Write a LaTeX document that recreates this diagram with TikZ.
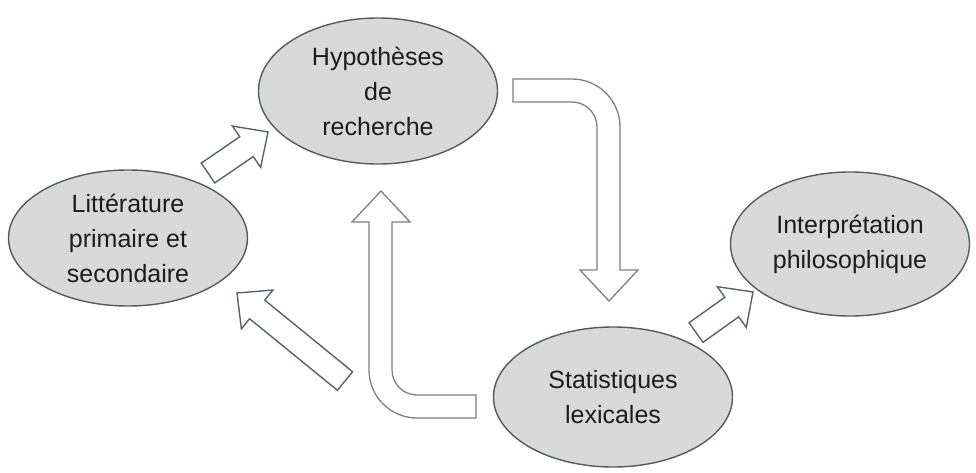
\documentclass[tikz,border=0pt]{standalone}
\usepackage{fontspec}
\setmainfont{Liberation Sans}
\usepackage{xcolor}
\usepackage{tikz}
\usetikzlibrary{shapes,arrows,calc}
\definecolor{bubblefill}{HTML}{D9D9D9}
\definecolor{bubbleline}{HTML}{4F5C64}
\definecolor{darkarrow}{HTML}{56636B}
\definecolor{lightarrow}{HTML}{7F7F7F}
\definecolor{textblack}{HTML}{1C1C1C}
\tikzstyle{bubble} = [ellipse, draw=bubbleline, fill=bubblefill, line width=1.4pt,
    inner sep=0pt, minimum width=239pt, minimum height=140pt, align=center,
    text=textblack, font=\fontsize{25pt}{35pt}\selectfont]
\tikzstyle{fatline} = [draw=darkarrow, fill=white, line width=1.4pt, line join=miter]
\tikzstyle{bentline} = [draw=lightarrow, fill=white, line width=1.3pt, line join=miter]
% block arrow from #1 (tail) to #2 (tip)
\newcommand{\fatarrow}[2]{%
  \path [fatline] ($(#1)!12pt!90:(#2)$)
    -- ($(#2)!26pt!(#1)!12pt!-90:(#1)$) -- ($(#2)!26pt!(#1)!25pt!-90:(#1)$)
    -- (#2)
    -- ($(#2)!26pt!(#1)!25pt!90:(#1)$) -- ($(#2)!26pt!(#1)!12pt!90:(#1)$)
    -- ($(#1)!12pt!-90:(#2)$) -- cycle;}
\begin{document}
\begin{tikzpicture}[x=1pt, y=1pt]
    \useasboundingbox (0,0) rectangle (976,-473);
    % Place nodes
    \node [bubble, minimum height=136pt] (litterature) at (128,-238) {Littérature\\primaire et\\secondaire};
    \node [bubble, right of=litterature, node distance=250pt, yshift=147pt, minimum height=146pt] (hypotheses) {Hypothèses\\de\\recherche};
    \node [bubble, right of=hypotheses, node distance=235pt, yshift=-306pt] (statistiques) {Statistiques\\lexicales};
    \node [bubble, right of=statistiques, node distance=237pt, yshift=153pt, minimum height=144pt] (interpretation) {Interprétation\\philosophique};
%
    \coordinate (litTail) at (208,-173);
    \coordinate (hypTip) at (268,-132);
    \coordinate (statTail) at (345,-381);
    \coordinate (litTip) at (237,-293);
    \coordinate (interTail) at (696,-332.5);
    \coordinate (interTip) at (753,-292);
    \fatarrow{litTail}{hypTip}
    \fatarrow{statTail}{litTip}
    \fatarrow{interTail}{interTip}
%
    % bent arrows
    \path [bentline] (513,-79) -- (572,-79) arc[start angle=90, end angle=0, radius=48]
        -- (620,-270) -- (638,-270) -- (609,-301) -- (580,-270) -- (597,-270)
        -- (597,-127) arc[start angle=0, end angle=90, radius=25] -- (513,-102) -- cycle;
    \path [bentline] (476,-418) -- (417,-418) arc[start angle=270, end angle=180, radius=48]
        -- (369,-222) -- (352,-222) -- (381,-191) -- (410,-222) -- (392,-222)
        -- (392,-370) arc[start angle=180, end angle=270, radius=25] -- (476,-395) -- cycle;
\end{tikzpicture}
\end{document}
